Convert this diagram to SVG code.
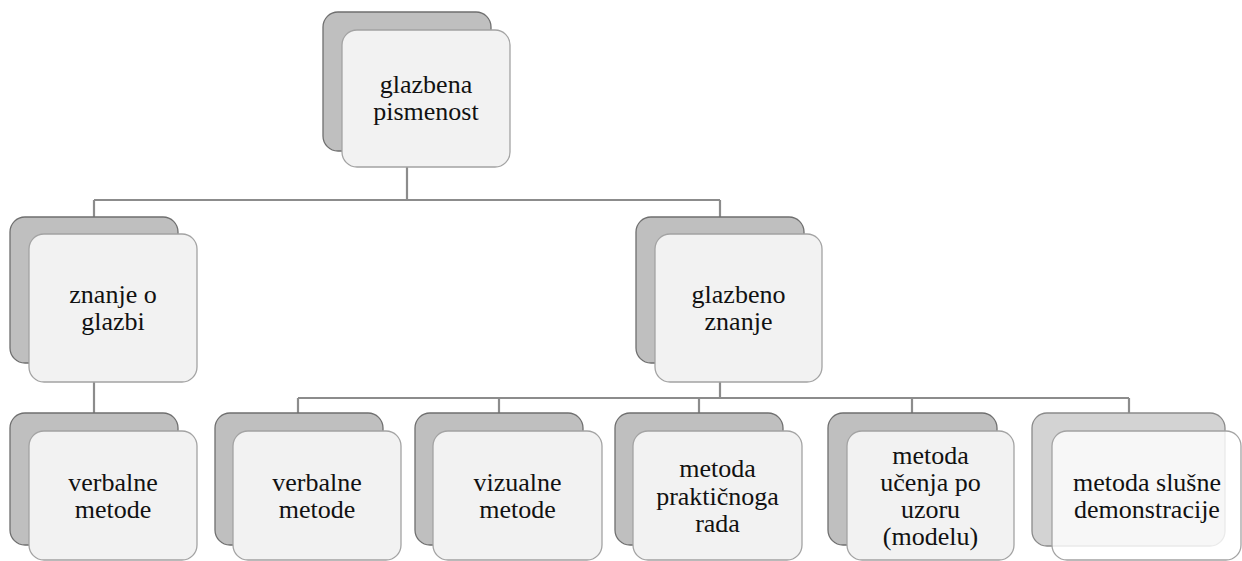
<svg xmlns="http://www.w3.org/2000/svg" width="1242" height="561" viewBox="0 0 1242 561">
<style>
.back{fill:#bfbfbf;stroke:#6f6f6f;stroke-width:1.3}
.front{fill:#f2f2f2;stroke:#a3a3a3;stroke-width:1.3}
.back2{fill:#d3d3d3;stroke:#8a8a8a;stroke-width:1.3}
.front2{fill:#ffffff;fill-opacity:0.82;stroke:#a3a3a3;stroke-width:1.3}
.conn{fill:none;stroke:#8c8c8c;stroke-width:2.2}
.t{font-family:'Liberation Serif','Times New Roman',serif;font-size:26px;fill:#111;text-anchor:middle}
</style>
<rect width="1242" height="561" fill="#ffffff"/>
<g id="connectors">
<path class="conn" d="M407 167V200M94 200H720M94 200V217M720 200V217"/>
<path class="conn" d="M94 382V413"/>
<path class="conn" d="M720 382V398M298 398H1129M298 398V413M499 398V413M699 398V413M912 398V413M1129 398V413"/>
</g>
<g id="n-glazbena-pismenost">
<rect class="back" x="323" y="12" width="168" height="139" rx="15"/>
<rect class="front" x="342" y="30" width="168" height="137" rx="15"/>
<text class="t" x="426" y="93">glazbena</text>
<text class="t" x="426" y="120">pismenost</text>
</g>
<g id="n-znanje-o-glazbi">
<rect class="back" x="10" y="217" width="168" height="146" rx="15"/>
<rect class="front" x="29" y="234" width="168" height="148" rx="15"/>
<text class="t" x="113" y="303">znanje o</text>
<text class="t" x="113" y="330">glazbi</text>
</g>
<g id="n-glazbeno-znanje">
<rect class="back" x="636" y="217" width="168" height="146" rx="15"/>
<rect class="front" x="655" y="234" width="167" height="148" rx="15"/>
<text class="t" x="738.5" y="303">glazbeno</text>
<text class="t" x="738.5" y="330">znanje</text>
</g>
<g id="n-verbalne-1">
<rect class="back" x="10" y="413" width="168" height="132" rx="15"/>
<rect class="front" x="29" y="431" width="168" height="129" rx="15"/>
<text class="t" x="113" y="491">verbalne</text>
<text class="t" x="113" y="518">metode</text>
</g>
<g id="n-verbalne-2">
<rect class="back" x="215" y="413" width="168" height="132" rx="15"/>
<rect class="front" x="233" y="431" width="168" height="129" rx="15"/>
<text class="t" x="317" y="491">verbalne</text>
<text class="t" x="317" y="518">metode</text>
</g>
<g id="n-vizualne">
<rect class="back" x="415" y="413" width="168" height="132" rx="15"/>
<rect class="front" x="433" y="431" width="169" height="129" rx="15"/>
<text class="t" x="517.5" y="491">vizualne</text>
<text class="t" x="517.5" y="518">metode</text>
</g>
<g id="n-prakticnoga">
<rect class="back" x="615" y="413" width="168" height="132" rx="15"/>
<rect class="front" x="633" y="431" width="169" height="129" rx="15"/>
<text class="t" x="717.5" y="477">metoda</text>
<text class="t" x="717.5" y="504.5">praktičnoga</text>
<text class="t" x="717.5" y="532">rada</text>
</g>
<g id="n-uzoru">
<rect class="back" x="828" y="413" width="169" height="132" rx="15"/>
<rect class="front" x="847" y="431" width="167" height="129" rx="15"/>
<text class="t" x="930.5" y="464">metoda</text>
<text class="t" x="930.5" y="491">učenja po</text>
<text class="t" x="930.5" y="518">uzoru</text>
<text class="t" x="930.5" y="545">(modelu)</text>
</g>
<g id="n-slusne">
<rect class="back2" x="1032" y="413" width="193" height="133" rx="15"/>
<rect class="front2" x="1052" y="431" width="189" height="129" rx="15"/>
<text class="t" x="1147" y="491">metoda slušne</text>
<text class="t" x="1147" y="518">demonstracije</text>
</g>
</svg>
